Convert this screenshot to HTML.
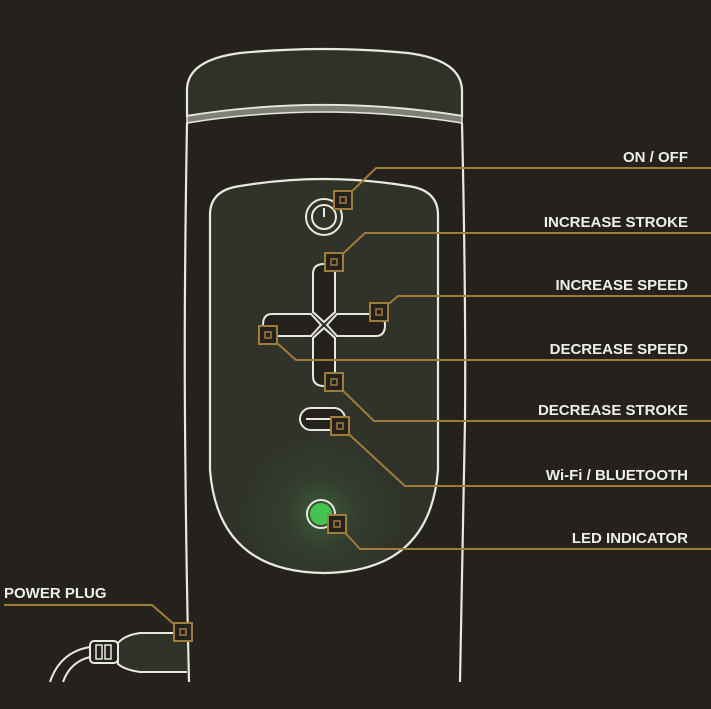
<!DOCTYPE html>
<html><head><style>html,body{margin:0;padding:0;background:#25221d;}svg{display:block}</style></head>
<body>
<svg width="711" height="709" viewBox="0 0 711 709" xmlns="http://www.w3.org/2000/svg">
<defs>
<radialGradient id="g" cx="321" cy="514" r="80" gradientUnits="userSpaceOnUse">
<stop offset="0" stop-color="#3d5d37"/><stop offset="0.45" stop-color="#333d2e"/><stop offset="1" stop-color="#30332a"/>
</radialGradient>
</defs>
<rect width="711" height="709" fill="#25221d"/>
<!-- cap -->
<path d="M187,116 L187,90 Q187,60 240,53 Q324,45 408,53 Q461,60 462,90 L462,116 Q324,94 187,116 Z" fill="#2f3229" stroke="#e8e8e0" stroke-width="2.2"/>
<path d="M187,116 Q324,94 462,116 L462,123 Q324,101 187,123 Z" fill="#7e8075" stroke="#e8e8e0" stroke-width="1.5"/>
<!-- body -->
<path d="M187,123 Q184,300 185,420 Q186,560 189,682" fill="none" stroke="#e8e8e0" stroke-width="2.2"/>
<path d="M462,123 Q466,300 465,420 Q462,560 460,682" fill="none" stroke="#e8e8e0" stroke-width="2.2"/>
<!-- panel -->
<path d="M210,215 Q210,190 240,186 Q324,172 408,186 Q438,190 438,215 L438,470 Q430,572 324,573 Q218,572 210,470 Z" fill="url(#g)" stroke="#e8e8e0" stroke-width="2.2"/>
<!-- power button -->
<circle cx="324" cy="217" r="18" fill="none" stroke="#e8e8e0" stroke-width="2"/>
<circle cx="324" cy="217" r="12" fill="none" stroke="#e8e8e0" stroke-width="2"/>
<line x1="324" y1="208" x2="324" y2="217" stroke="#e8e8e0" stroke-width="2"/>
<!-- cross -->
<g fill="#25221d" stroke="#e8e8e0" stroke-width="2">
<path d="M313,312 L313,274 Q313,264 324,264 Q335,264 335,274 L335,312 L324,322 Z"/>
<path d="M313,338 L313,376 Q313,386 324,386 Q335,386 335,376 L335,338 L324,328 Z"/>
<path d="M311,314 L272,314 Q263,314 263,325 Q263,336 272,336 L311,336 L321,325 Z"/>
<path d="M337,314 L376,314 Q385,314 385,325 Q385,336 376,336 L337,336 L327,325 Z"/>
</g>
<rect x="300" y="408" width="45" height="22" rx="11" fill="#25221d" stroke="#e8e8e0" stroke-width="2"/>
<line x1="306" y1="419" x2="338" y2="419" stroke="#e8e8e0" stroke-width="2"/>
<!-- LED -->
<circle cx="321" cy="514" r="14" fill="none" stroke="#e8e8e0" stroke-width="2"/>
<circle cx="321" cy="514" r="11" fill="#44c44f"/>
<!-- plug -->
<path d="M187,633 L140,633 Q125,635 118,643 L118,664 Q125,670 140,672 L187,672" fill="#303329" stroke="#e8e8e0" stroke-width="2"/>
<rect x="90" y="641" width="28" height="22" rx="4" fill="#25221d" stroke="#e8e8e0" stroke-width="2"/>
<rect x="96" y="645" width="6" height="14" fill="none" stroke="#e8e8e0" stroke-width="1.5"/>
<rect x="105" y="645" width="6" height="14" fill="none" stroke="#e8e8e0" stroke-width="1.5"/>
<path d="M90,647 Q60,652 50,682 M90,657 Q70,662 63,682" fill="none" stroke="#e8e8e0" stroke-width="2"/>
<!-- callout lines -->
<g fill="none" stroke="#a07c3a" stroke-width="2">
<polyline points="343,200 376,168 711,168"/>
<polyline points="334,262 365,233 711,233"/>
<polyline points="379,312 398,296 711,296"/>
<polyline points="268,335 296,360 711,360"/>
<polyline points="334,382 374,421 711,421"/>
<polyline points="340,426 405,486 711,486"/>
<polyline points="337,524 360,549 711,549"/>
<polyline points="4,605 152,605 183,632"/>
</g>
<g fill="#25221d" stroke="#a07c3a" stroke-width="2">
<rect x="334" y="191" width="18" height="18"/><rect x="340" y="197" width="6" height="6" stroke-width="1.5"/>
<rect x="325" y="253" width="18" height="18"/><rect x="331" y="259" width="6" height="6" stroke-width="1.5"/>
<rect x="370" y="303" width="18" height="18"/><rect x="376" y="309" width="6" height="6" stroke-width="1.5"/>
<rect x="259" y="326" width="18" height="18"/><rect x="265" y="332" width="6" height="6" stroke-width="1.5"/>
<rect x="325" y="373" width="18" height="18"/><rect x="331" y="379" width="6" height="6" stroke-width="1.5"/>
<rect x="331" y="417" width="18" height="18"/><rect x="337" y="423" width="6" height="6" stroke-width="1.5"/>
<rect x="328" y="515" width="18" height="18"/><rect x="334" y="521" width="6" height="6" stroke-width="1.5"/>
<rect x="174" y="623" width="18" height="18"/><rect x="180" y="629" width="6" height="6" stroke-width="1.5"/>
</g>
<g font-family="Liberation Sans, sans-serif" font-weight="bold" font-size="15" fill="#eeeeea" text-anchor="end">
<text x="688" y="162">ON / OFF</text>
<text x="688" y="227">INCREASE STROKE</text>
<text x="688" y="290">INCREASE SPEED</text>
<text x="688" y="354">DECREASE SPEED</text>
<text x="688" y="415">DECREASE STROKE</text>
<text x="688" y="480">Wi-Fi / BLUETOOTH</text>
<text x="688" y="543">LED INDICATOR</text>
<text x="4" y="598" text-anchor="start">POWER  PLUG</text>
</g>
</svg>
</body></html>
